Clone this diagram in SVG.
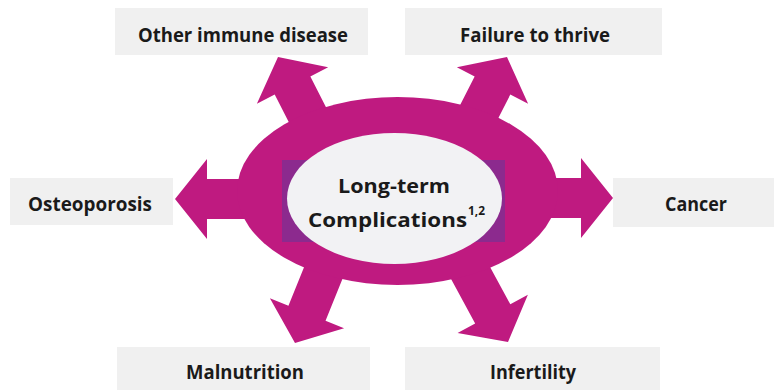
<svg xmlns="http://www.w3.org/2000/svg" xmlns:xlink="http://www.w3.org/1999/xlink" width="774" height="390" viewBox="0 0 774 390">
  <style>
    .box { fill: #f0f0f0; }
    .lbl { font-family: "Open Sans", "Noto Sans", "Liberation Sans", sans-serif; font-weight: 700; font-size: 19px; fill: #1a1a1a; text-anchor: middle; }
    .ctr { font-family: "Open Sans", "Noto Sans", "Liberation Sans", sans-serif; font-weight: 700; font-size: 20px; fill: #1a1a1a; }
    .sup { font-family: "Open Sans", "Noto Sans", "Liberation Sans", sans-serif; font-weight: 700; font-size: 12px; fill: #1a1a1a; }
    .mag { fill: #bf1a80; }
  </style>
  <defs>
    <path id="arr" d="M0,0 L40,32 L20,32 L20,110 L-20,110 L-20,32 L-40,32 Z"/>
  </defs>
  <rect width="774" height="390" fill="#ffffff"/>

  <g id="node-other-immune">
    <rect class="box" x="115" y="8" width="253" height="47"/>
    <text class="lbl" x="243" y="42" textLength="210" lengthAdjust="spacingAndGlyphs">Other immune disease</text>
  </g>
  <g id="node-failure">
    <rect class="box" x="405" y="8" width="257" height="47"/>
    <text class="lbl" x="535" y="42" textLength="150" lengthAdjust="spacingAndGlyphs">Failure to thrive</text>
  </g>
  <g id="node-osteoporosis">
    <rect class="box" x="10" y="178" width="163" height="47"/>
    <text class="lbl" x="90" y="211" textLength="124" lengthAdjust="spacingAndGlyphs">Osteoporosis</text>
  </g>
  <g id="node-cancer">
    <rect class="box" x="613" y="178" width="161" height="49"/>
    <text class="lbl" x="696" y="211" textLength="62" lengthAdjust="spacingAndGlyphs">Cancer</text>
  </g>
  <g id="node-malnutrition">
    <rect class="box" x="117" y="347" width="253" height="43"/>
    <text class="lbl" x="245" y="379" textLength="118" lengthAdjust="spacingAndGlyphs">Malnutrition</text>
  </g>
  <g id="node-infertility">
    <rect class="box" x="405" y="347" width="255" height="43"/>
    <text class="lbl" x="533" y="379" textLength="86" lengthAdjust="spacingAndGlyphs">Infertility</text>
  </g>

  <g id="connectors" class="mag">
    <use xlink:href="#arr" href="#arr" transform="translate(278,57) rotate(-27)"/>
    <use xlink:href="#arr" href="#arr" transform="translate(507,57) rotate(27)"/>
    <use xlink:href="#arr" href="#arr" transform="translate(175,199) rotate(-90)"/>
    <use xlink:href="#arr" href="#arr" transform="translate(613,198) rotate(90)"/>
    <use xlink:href="#arr" href="#arr" transform="translate(295,343) rotate(202)"/>
    <use xlink:href="#arr" href="#arr" transform="translate(508,342) rotate(151.5)"/>
  </g>

  <g id="node-center">
    <ellipse class="mag" cx="397.5" cy="191" rx="160.5" ry="94"/>
    <rect x="282" y="160" width="223" height="82" fill="#8c2a8e"/>
    <ellipse cx="394.5" cy="198.5" rx="107.5" ry="65.5" fill="#f2f2f4"/>
    <text class="ctr" x="394" y="193" text-anchor="middle" textLength="112" lengthAdjust="spacingAndGlyphs">Long-term</text>
    <text class="ctr" x="308" y="227" textLength="159" lengthAdjust="spacingAndGlyphs">Complications</text>
    <text class="sup" x="468" y="215" textLength="17" lengthAdjust="spacingAndGlyphs">1,2</text>
  </g>
</svg>
